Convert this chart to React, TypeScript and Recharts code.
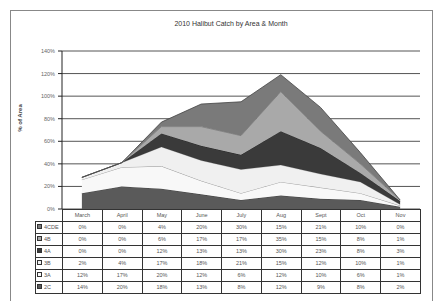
import React from 'react';
import { AreaChart, Area, XAxis, YAxis, CartesianGrid } from 'recharts';

const months = ['March', 'April', 'May', 'June', 'July', 'Aug', 'Sept', 'Oct', 'Nov'];
const s2C = [14, 20, 18, 13, 8, 12, 9, 8, 2];
const s3A = [12, 17, 20, 12, 6, 12, 10, 6, 1];
const s3B = [2, 4, 17, 18, 21, 15, 12, 10, 1];
const s4A = [0, 0, 12, 13, 13, 30, 23, 8, 3];
const s4B = [0, 0, 6, 17, 17, 35, 15, 8, 1];
const s4CDE = [0, 0, 4, 20, 30, 15, 21, 10, 0];
const yTicks = [0, 20, 40, 60, 80, 100, 120, 140];

const series = [
  { key: '2C', values: s2C, fill: '#5a5a5a', stroke: '#3a3a3a' },
  { key: '3A', values: s3A, fill: '#f8f8f8', stroke: '#888888' },
  { key: '3B', values: s3B, fill: '#f0f0f0', stroke: '#bbbbbb' },
  { key: '4A', values: s4A, fill: '#3a3a3a', stroke: '#222222' },
  { key: '4B', values: s4B, fill: '#a9a9a9', stroke: '#777777' },
  { key: '4CDE', values: s4CDE, fill: '#7a7a7a', stroke: '#444444' },
];

const data = months.map((m, i) => {
  const row: Record<string, any> = { month: m };
  series.forEach((s) => (row[s.key] = s.values[i]));
  return row;
});

const FONT = 'Arial, "Liberation Sans", sans-serif';

export default function App() {
  const plotLeft = 62;
  const plotRight = 420;
  const colW = (plotRight - plotLeft) / months.length;
  const tableRows = [...series].reverse();
  const cellStyle: React.CSSProperties = {
    border: '1px solid #333',
    padding: 0,
    height: 12,
    fontSize: 5.5,
    color: '#555',
    textAlign: 'center',
    fontFamily: FONT,
    lineHeight: 1,
    overflow: 'hidden',
    whiteSpace: 'nowrap',
    boxSizing: 'border-box',
  };
  return (
    <div style={{ position: 'fixed', left: 0, top: 0, width: 438, height: 301, overflow: 'hidden', background: '#fff' }}>
      <div style={{ position: 'absolute', left: 10, top: 10, width: 421, height: 300, border: '1px solid #888' }} />
      <div
        style={{
          position: 'absolute',
          left: 131,
          top: 20,
          width: 200,
          textAlign: 'center',
          fontSize: 7,
          color: '#333',
          fontFamily: FONT,
        }}
      >
        2010 Halibut Catch by Area &amp; Month
      </div>
      <div
        style={{
          position: 'absolute',
          left: 20 - 30,
          top: 118 - 5,
          width: 60,
          height: 10,
          lineHeight: '10px',
          textAlign: 'center',
          transform: 'rotate(-90deg)',
          fontSize: 6,
          fontWeight: 'bold',
          color: '#444',
          fontFamily: FONT,
        }}
      >
        % of Area
      </div>
      <div style={{ position: 'absolute', left: 0, top: 0 }}>
        <AreaChart
          width={438}
          height={216}
          data={data}
          margin={{ top: 51, right: 438 - plotRight, bottom: 7, left: 0 }}
        >
          <CartesianGrid vertical={false} stroke="#555" strokeWidth={1} />
          <XAxis dataKey="month" hide padding={{ left: colW / 2, right: colW / 2 }} />
          <YAxis
            width={plotLeft}
            domain={[0, 140]}
            ticks={yTicks}
            interval={0}
            tickFormatter={(v: number) => `${v}%`}
            tick={{ fontSize: 5.5, fill: '#666', fontFamily: FONT }}
            tickSize={4}
            tickMargin={3}
            axisLine={{ stroke: '#222' }}
            tickLine={{ stroke: '#222' }}
          />
          {series.map((s) => (
            <Area
              key={s.key}
              type="linear"
              dataKey={s.key}
              stackId="a"
              fill={s.fill}
              fillOpacity={1}
              stroke={s.stroke}
              strokeWidth={0.8}
              isAnimationActive={false}
            />
          ))}
        </AreaChart>
      </div>
      <table
        style={{
          position: 'absolute',
          left: 35,
          top: 209,
          borderCollapse: 'collapse',
          tableLayout: 'fixed',
          width: plotRight - 35,
        }}
      >
        <colgroup>
          <col style={{ width: plotLeft - 35 }} />
          {months.map((m) => (
            <col key={m} style={{ width: colW }} />
          ))}
        </colgroup>
        <tbody>
          <tr>
            <td style={{ ...cellStyle, border: 'none', borderRight: '1px solid #333' }} />
            {months.map((m) => (
              <td key={m} style={cellStyle}>
                {m}
              </td>
            ))}
          </tr>
          {tableRows.map((s) => (
            <tr key={s.key}>
              <td style={{ ...cellStyle, textAlign: 'left', paddingLeft: 1 }}>
                <span
                  style={{
                    display: 'inline-block',
                    width: 3,
                    height: 3,
                    background: s.fill,
                    border: '0.5px solid #333',
                    marginRight: 2,
                  }}
                />
                {s.key}
              </td>
              {s.values.map((v, i) => (
                <td key={i} style={cellStyle}>
                  {v}%
                </td>
              ))}
            </tr>
          ))}
        </tbody>
      </table>
    </div>
  );
}
